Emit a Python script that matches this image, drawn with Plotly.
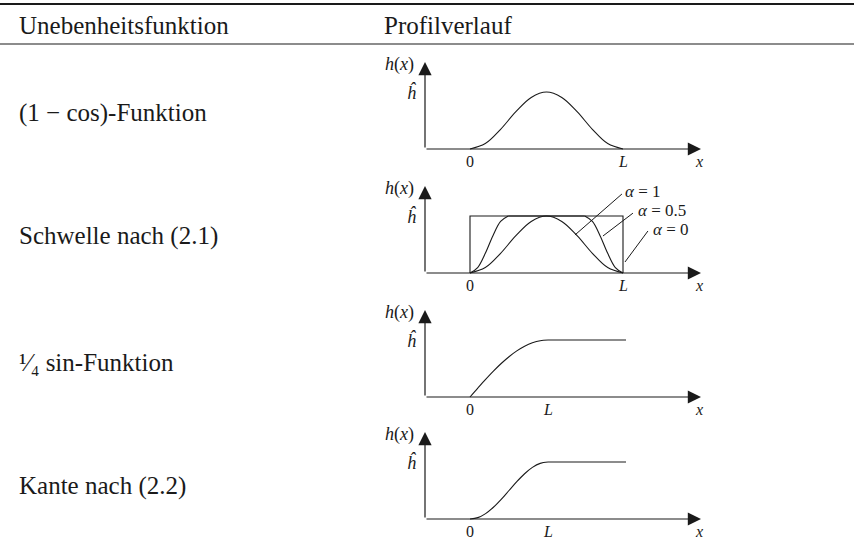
import plotly.graph_objects as go

W, H = 854, 550
INK = "#1a1a1a"
SERIF = "Liberation Serif"

header = ["Unebenheitsfunktion", "Profilverlauf"]
row_labels = ["(1 − cos)-Funktion", "Schwelle nach (2.1)", "¹⁄₄ sin-Funktion", "Kante nach (2.2)"]

# x in Einheiten von L, h in Einheiten von h-Dach
cos_x = [0, 0.1, 0.2, 0.3, 0.4, 0.5, 0.6, 0.7, 0.8, 0.9, 1.0]
cos_h = [0, 0.095, 0.345, 0.655, 0.905, 1.0, 0.905, 0.655, 0.345, 0.095, 0]

# Schwelle, alpha = 0.5 (Anstieg, Plateau, Abfall)
half_x = [0, 0.05, 0.1, 0.15, 0.2, 0.25, None, 0.25, 0.75, None, 0.75, 0.8, 0.85, 0.9, 0.95, 1.0]
half_h = [0, 0.095, 0.345, 0.655, 0.905, 1.0, None, 1.0, 1.0, None, 1.0, 0.905, 0.655, 0.345, 0.095, 0]

# Schwelle, alpha = 0 (Rechteck)
rect_x = [0, 0, 1, 1]
rect_h = [0, 1, 1, 0]

# 1/4 sin-Funktion und Kante, Plateau bis 2L
ramp_x = [0, 0.1, 0.2, 0.3, 0.4, 0.5, 0.6, 0.7, 0.8, 0.9, 1.0, None, 1.0, 2.0]
sin_h = [0, 0.156, 0.309, 0.454, 0.588, 0.707, 0.809, 0.891, 0.951, 0.988, 1.0, None, 1.0, 1.0]
edge_h = [0, 0.024, 0.095, 0.206, 0.345, 0.5, 0.655, 0.794, 0.905, 0.976, 1.0, None, 1.0, 1.0]

alpha_labels = ["α = 1", "α = 0.5", "α = 0"]

# Pixelgeometrie der Skizzen: Grundlinie, Pixel pro L
panels = [(149, 153), (273, 153), (397, 78), (519, 78)]
X0_PX, YAX_PX, TIP_PX = 470, 425, 701
BOX = (370, 720)
PX_H = 57.0  # Pixel pro h-Dach
TOP_PX, BOT_PX = 100, 24  # Rand ueber / unter der Grundlinie

fig = go.Figure()
line = dict(color=INK, width=1.1)
series = [
    [(cos_x, cos_h, "spline")],
    [(cos_x, cos_h, "spline"), (half_x, half_h, "spline"), (rect_x, rect_h, "linear")],
    [(ramp_x, sin_h, "spline")],
    [(ramp_x, edge_h, "spline")],
]

annotations = []
shapes = []
layout_axes = {}


def txt(i, x, y, s, size=17, xanchor="center"):
    annotations.append(dict(
        xref=f"x{i}", yref=f"y{i}", x=x, y=y, text=s,
        showarrow=False, xanchor=xanchor, yanchor="middle",
        font=dict(family=SERIF, size=size, color=INK)))


for k, (base, lpx) in enumerate(panels):
    i = k + 1
    xr = [(BOX[0] - X0_PX) / lpx, (BOX[1] - X0_PX) / lpx]
    layout_axes[f"xaxis{i}"] = dict(domain=[BOX[0] / W, BOX[1] / W], range=xr, visible=False,
                                    anchor=f"y{i}", fixedrange=True)
    layout_axes[f"yaxis{i}"] = dict(domain=[1 - (base + BOT_PX) / H, 1 - (base - TOP_PX) / H],
                                    range=[-BOT_PX / PX_H, TOP_PX / PX_H], visible=False,
                                    anchor=f"x{i}", fixedrange=True)
    for xs, hs, shape in series[k]:
        fig.add_trace(go.Scatter(x=xs, y=hs, mode="lines", line=dict(line, shape=shape),
                                 connectgaps=False, xaxis=f"x{i}", yaxis=f"y{i}",
                                 showlegend=False, hoverinfo="skip"))

    x_ax = (YAX_PX - X0_PX) / lpx
    x_tip = (TIP_PX - X0_PX) / lpx
    y_tip = 87 / PX_H
    for (tx, ty) in [(x_tip, 0), (x_ax, y_tip)]:
        annotations.append(dict(
            xref=f"x{i}", yref=f"y{i}", axref=f"x{i}", ayref=f"y{i}",
            x=tx, y=ty, ax=x_ax, ay=0, text="", showarrow=True,
            arrowhead=2, arrowsize=2.2, arrowwidth=1.2, arrowcolor=INK, standoff=0))

    txt(i, (399 - X0_PX) / lpx, 1.48, "<i>h</i>(<i>x</i>)", size=18)
    txt(i, (412 - X0_PX) / lpx, 1.0, "<i>ĥ</i>", size=18)
    txt(i, 0, -0.22, "0", size=16)
    txt(i, 1, -0.22, "<i>L</i>", size=16)
    txt(i, (699 - X0_PX) / lpx, -0.22, "<i>x</i>", size=16)

# Leitlinien der alpha-Beschriftungen im zweiten Feld
leaders = [((0.686, 0.667), (0.993, 1.386)),
           ((0.869, 0.649), (1.065, 1.05)),
           ((1.013, 0.193), (1.163, 0.737))]
label_pos = [(1.0, 1.43), (1.085, 1.09), (1.183, 0.77)]
for (p0, p1), lab, (lx, ly) in zip(leaders, alpha_labels, label_pos):
    shapes.append(dict(type="line", xref="x2", yref="y2", x0=p0[0], y0=p0[1], x1=p1[0], y1=p1[1],
                       line=dict(color=INK, width=1)))
    sym, rest = lab.split(" ", 1)
    txt(2, lx, ly, f"<i>{sym}</i> {rest}", size=17, xanchor="left")

# Kopfzeile und Zeilenbeschriftungen
row_y = [113, 236, 362, 486]
for lab, py in zip(row_labels, row_y):
    annotations.append(dict(xref="paper", yref="paper", x=17 / W, y=1 - py / H, text=lab,
                            showarrow=False, xanchor="left", yanchor="middle",
                            font=dict(family=SERIF, size=25, color=INK)))
for lab, px in zip(header, [17, 382]):
    annotations.append(dict(xref="paper", yref="paper", x=px / W, y=1 - 26 / H, text=lab,
                            showarrow=False, xanchor="left", yanchor="middle",
                            font=dict(family=SERIF, size=25, color=INK)))

shapes.append(dict(type="line", xref="paper", yref="paper", x0=0, x1=1,
                   y0=1 - 4 / H, y1=1 - 4 / H, line=dict(color=INK, width=2)))
shapes.append(dict(type="line", xref="paper", yref="paper", x0=0, x1=1,
                   y0=1 - 44 / H, y1=1 - 44 / H, line=dict(color=INK, width=1.2)))

fig.update_layout(width=W, height=H, margin=dict(l=0, r=0, t=0, b=0),
                  paper_bgcolor="white", plot_bgcolor="rgba(0,0,0,0)",
                  annotations=annotations, shapes=shapes, showlegend=False, **layout_axes)

# Seitenrand des Browsers entfernen, damit die Figur bei (0, 0) beginnt
fig.write_html("out.html", config={"displayModeBar": False},
               post_script="document.body.style.margin='0';")
